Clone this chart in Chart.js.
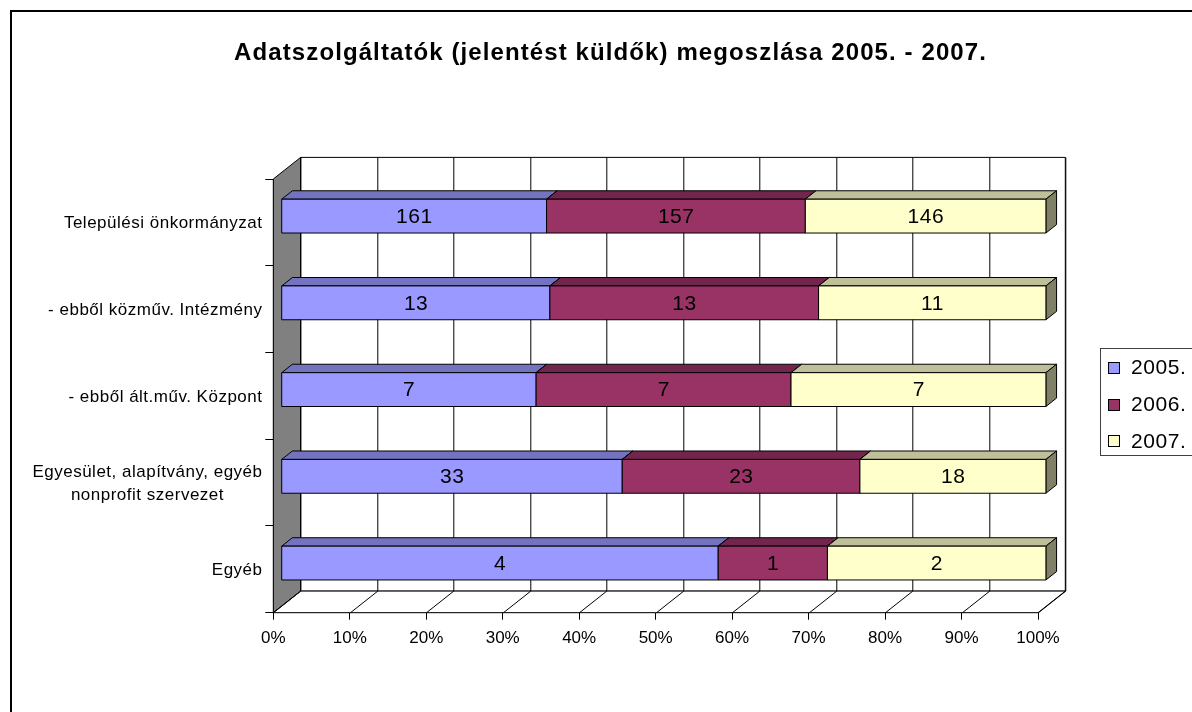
<!DOCTYPE html>
<html>
<head>
<meta charset="utf-8">
<script src="https://cdn.jsdelivr.net/npm/chart.js@4/dist/chart.umd.min.js"></script>
<style>
  html, body { margin: 0; padding: 0; background: #fff; }
  canvas { display: block; }
</style>
</head>
<body>
<canvas id="chart" width="1192" height="712"></canvas>
<script>
const title = "Adatszolgáltatók (jelentést küldők) megoszlása 2005. - 2007.";
const categories = [
  "Települési önkormányzat",
  "- ebből közműv. Intézmény",
  "- ebből ált.műv. Központ",
  ["Egyesület, alapítvány, egyéb", "nonprofit szervezet"],
  "Egyéb"
];
const seriesNames = ["2005.", "2006.", "2007."];
const values2005 = [161, 13, 7, 33, 4];
const values2006 = [157, 13, 7, 23, 1];
const values2007 = [146, 11, 7, 18, 2];
const xTicks = [0, 10, 20, 30, 40, 50, 60, 70, 80, 90, 100];

const colors = ["#9999FF", "#993366", "#FFFFCC"];
const FONT = "'Liberation Sans', Arial, sans-serif";

// depth of the 3D box (front plane -> back wall)
const DX = 27.3, DY = -21.6;
// bar sits between these fractions of the depth
const BAR_F0 = 0.29, BAR_F1 = 0.68;

const raw = [values2005, values2006, values2007];
const totals = categories.map((c, i) => raw.reduce((s, arr) => s + arr[i], 0));

function shade(hex, k) {
  const n = parseInt(hex.slice(1), 16);
  const r = Math.round(((n >> 16) & 255) * k);
  const g = Math.round(((n >> 8) & 255) * k);
  const b = Math.round((n & 255) * k);
  return `rgb(${r},${g},${b})`;
}

function poly(ctx, pts, fill) {
  ctx.beginPath();
  ctx.moveTo(pts[0][0], pts[0][1]);
  for (let i = 1; i < pts.length; i++) ctx.lineTo(pts[i][0], pts[i][1]);
  ctx.closePath();
  if (fill) { ctx.fillStyle = fill; ctx.fill(); }
  ctx.stroke();
}

// fillText with letter spacing, alignment handled by hand
function spacedText(ctx, str, x, y, align, spacing) {
  ctx.letterSpacing = spacing + "px";
  const w = ctx.measureText(str).width - spacing;
  let left = x;
  if (align === "center") left = x - w / 2;
  else if (align === "right") left = x - w;
  ctx.textAlign = "left";
  ctx.fillText(str, left, y);
  ctx.letterSpacing = "0px";
  return w;
}

function textWidth(ctx, str, spacing) {
  ctx.letterSpacing = spacing + "px";
  const w = ctx.measureText(str).width - spacing;
  ctx.letterSpacing = "0px";
  return w;
}

const walls = {
  id: "walls",
  beforeDatasetsDraw(chart) {
    const ctx = chart.ctx;
    const a = chart.chartArea;
    const xs = chart.scales.x;
    ctx.save();
    ctx.strokeStyle = "#000";
    ctx.lineWidth = 1;
    // back wall
    poly(ctx, [[a.left + DX, a.top + DY], [a.right + DX, a.top + DY], [a.right + DX, a.bottom + DY], [a.left + DX, a.bottom + DY]], "#fff");
    // left side wall
    poly(ctx, [[a.left, a.top], [a.left + DX, a.top + DY], [a.left + DX, a.bottom + DY], [a.left, a.bottom]], "#808080");
    // floor
    poly(ctx, [[a.left, a.bottom], [a.left + DX, a.bottom + DY], [a.right + DX, a.bottom + DY], [a.right, a.bottom]], "#fff");
    // gridlines on back wall and floor
    xTicks.forEach(t => {
      const px = Math.round(xs.getPixelForValue(t)) + 0.5;
      ctx.beginPath();
      ctx.moveTo(px + DX, a.top + DY);
      ctx.lineTo(px + DX, a.bottom + DY);
      ctx.lineTo(px, a.bottom);
      ctx.stroke();
    });
    ctx.restore();
  },
  afterDatasetsDraw(chart) {
    const ctx = chart.ctx;
    ctx.save();
    ctx.strokeStyle = "#000";
    ctx.lineWidth = 1;
    ctx.lineJoin = "round";
    const ox = DX * BAR_F0, oy = DY * BAR_F0;
    const dx = DX * (BAR_F1 - BAR_F0), dy = DY * (BAR_F1 - BAR_F0);
    categories.forEach((c, i) => {
      chart.data.datasets.forEach((ds, d) => {
        const el = chart.getDatasetMeta(d).data[i];
        const x0 = el.base + ox, x1 = el.x + ox;
        const y0 = el.y - el.height / 2 + oy, y1 = el.y + el.height / 2 + oy;
        const col = colors[d];
        poly(ctx, [[x0, y0], [x0 + dx, y0 + dy], [x1 + dx, y0 + dy], [x1, y0]], shade(col, 0.75));
        poly(ctx, [[x1, y0], [x1 + dx, y0 + dy], [x1 + dx, y1 + dy], [x1, y1]], shade(col, 0.5));
        poly(ctx, [[x0, y0], [x1, y0], [x1, y1], [x0, y1]], col);
      });
      chart.data.datasets.forEach((ds, d) => {
        const el = chart.getDatasetMeta(d).data[i];
        ctx.fillStyle = "#000";
        ctx.font = "21px " + FONT;
        ctx.textBaseline = "middle";
        spacedText(ctx, String(raw[d][i]), (el.base + el.x) / 2 + ox, el.y + oy + 1, "center", 0.5);
      });
    });
    ctx.restore();
  },
  afterDraw(chart) {
    const ctx = chart.ctx;
    const ys = chart.scales.y;
    ctx.save();
    // outer border
    ctx.strokeStyle = "#000";
    ctx.lineWidth = 2;
    ctx.strokeRect(11, 11, 1400, 1000);
    // title
    ctx.fillStyle = "#000";
    ctx.font = "bold 24px " + FONT;
    ctx.textBaseline = "alphabetic";
    spacedText(ctx, title, 610, 60, "center", 1.1);
    // category labels
    ctx.font = "17px " + FONT;
    ctx.textBaseline = "middle";
    const sp = 0.5;
    categories.forEach((lab, i) => {
      const y = ys.getPixelForValue(i);
      const lines = Array.isArray(lab) ? lab : [lab];
      const w = Math.max(...lines.map(l => textWidth(ctx, l, sp)));
      const lh = 23;
      lines.forEach((l, k) => {
        const ly = y + (k - (lines.length - 1) / 2) * lh + 1;
        spacedText(ctx, l, 262 - w / 2, ly, "center", sp);
      });
    });
    // legend
    ctx.lineWidth = 1;
    ctx.strokeStyle = "#404040";
    ctx.strokeRect(1100.5, 348.5, 120, 107);
    ctx.font = "21px " + FONT;
    seriesNames.forEach((s, d) => {
      const cy = 367.5 + d * 36.7;
      ctx.fillStyle = colors[d];
      ctx.fillRect(1108.5, Math.round(cy - 5.5) + 0.5, 11, 11);
      ctx.strokeStyle = "#000";
      ctx.strokeRect(1108.5, Math.round(cy - 5.5) + 0.5, 11, 11);
      ctx.fillStyle = "#000";
      spacedText(ctx, s, 1131, cy + 1, "left", 0.6);
    });
    ctx.restore();
  }
};

new Chart(document.getElementById("chart"), {
  type: "bar",
  data: {
    labels: categories.map(c => Array.isArray(c) ? c.join(" ") : c),
    datasets: raw.map((arr, d) => ({
      label: seriesNames[d],
      data: arr.map((v, i) => v / totals[i] * 100),
      backgroundColor: "rgba(0,0,0,0)",
      borderWidth: 0,
      barPercentage: 0.39,
      categoryPercentage: 1.0
    }))
  },
  options: {
    indexAxis: "y",
    responsive: false,
    animation: false,
    layout: { padding: { left: 0, top: 179, right: 154, bottom: 59.3 } },
    plugins: { legend: { display: false }, title: { display: false }, tooltip: { enabled: false } },
    scales: {
      x: {
        stacked: true,
        min: 0,
        max: 100,
        afterFit: s => { s.height = 40; },
        afterBuildTicks: s => { s.ticks = xTicks.map(v => ({ value: v })); },
        ticks: {
          callback: v => v + "%",
          color: "#000",
          font: { family: FONT, size: 17 },
          padding: 8,
          maxRotation: 0,
          autoSkip: false
        },
        grid: { drawOnChartArea: false, color: "#000", tickLength: 7 },
        border: { color: "#000" }
      },
      y: {
        stacked: true,
        afterFit: s => { s.width = 273.3; },
        ticks: { display: false },
        grid: { offset: true, drawOnChartArea: false, color: "#000", tickLength: 8 },
        border: { color: "#000" }
      }
    }
  },
  plugins: [walls]
});
</script>
</body>
</html>
